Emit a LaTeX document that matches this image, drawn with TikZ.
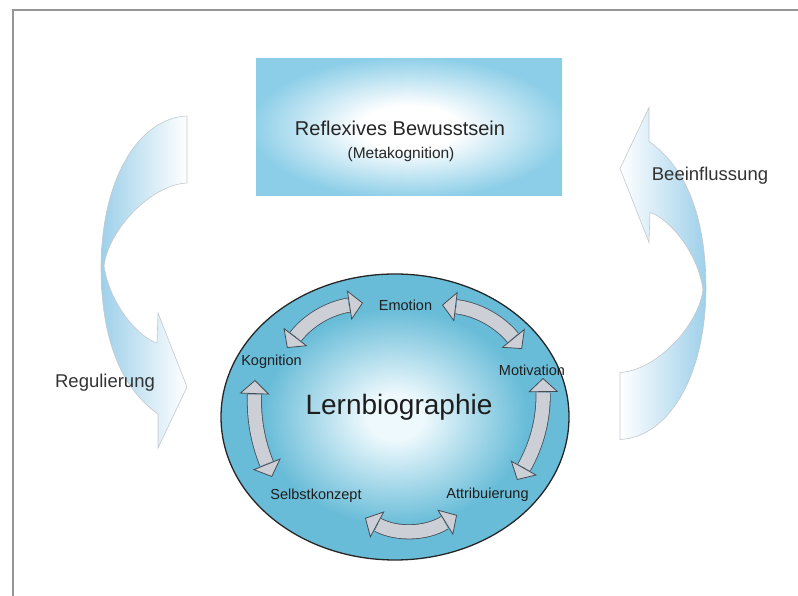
\documentclass[tikz,border=0pt]{standalone}
\usepackage{fontspec}
\setmainfont{Liberation Sans}
\usetikzlibrary{arrows.meta,shapes.geometric}
\definecolor{boxblue}{RGB}{140,206,232}
\definecolor{ellblue}{RGB}{104,188,216}
\definecolor{ellwhite}{RGB}{238,249,253}
\definecolor{bandblue}{RGB}{158,208,234}
\definecolor{bandedge}{RGB}{196,200,204}
\definecolor{arrowgray}{RGB}{204,208,214}
\definecolor{arrowedge}{RGB}{70,76,84}
\definecolor{framegray}{RGB}{150,150,150}
\definecolor{labeltext}{RGB}{30,30,30}
\pgfdeclareradialshading{bioshade}{\pgfpoint{0bp}{0bp}}{color(0bp)=(ellwhite); color(4bp)=(ellwhite); color(19bp)=(ellblue); color(50bp)=(ellblue)}
\pgfdeclareradialshading{metashade}{\pgfpoint{0bp}{0bp}}{color(0bp)=(white); color(8bp)=(white); color(26bp)=(boxblue); color(50bp)=(boxblue)}
\newcommand{\cyclearrow}[3]{%
  \draw[cyctip] #1 to[bend left=#3] #2;
  \draw[cycrim] #1 to[bend left=#3] #2;
  \draw[cycfill] #1 to[bend left=#3] #2;
}

\begin{document}
\begin{tikzpicture}[x=1pt,y=1pt,
    lbl/.style={font=\fontsize{14.5}{17}\selectfont, text=labeltext, inner sep=0pt},
    side/.style={font=\fontsize{18.5}{22}\selectfont, text=black!80, inner sep=0pt},
    band/.style={draw=bandedge, line width=0.6pt},
    cyctip/.style={draw=arrowedge, line width=0.8pt,
      {Triangle[length=14pt,width=30pt,line width=0.8pt,fill=arrowgray]}-{Triangle[length=14pt,width=30pt,line width=0.8pt,fill=arrowgray]}},
    cycrim/.style={draw=arrowedge, line width=15pt, shorten >=14.5pt, shorten <=14.5pt},
    cycfill/.style={draw=arrowgray, line width=13.4pt, shorten >=14.5pt, shorten <=14.5pt},
  ]
  \useasboundingbox (0,0) rectangle (798,596);
  \draw[framegray, line width=1.2pt] (13,0) -- (13,586) -- (798,586);

  \path[band, left color=bandblue, right color=white]
    (187,480) .. controls (140,478) and (102,420) .. (101,330)
    .. controls (101,250) and (125,205) .. (158,182)
    -- (158,148) -- (187,209) -- (158,283) -- (157,253)
    .. controls (140,258) and (110,290) .. (104,330)
    .. controls (108,365) and (150,411) .. (187,413) -- cycle;
  \path[band, left color=white, right color=bandblue]
    (620,156.5) .. controls (667,158.5) and (705,216.5) .. (706,306.5)
    .. controls (706,386.5) and (682,431.5) .. (649,454.5)
    -- (649,488.5) -- (620,427.5) -- (649,353.5) -- (650,383.5)
    .. controls (667,378.5) and (697,346.5) .. (703,306.5)
    .. controls (699,271.5) and (657,225.5) .. (620,223.5) -- cycle;

  \node[side] (regul) at (105,213) {Regulierung};
  \node[side] (beein) at (710,420) {Beeinflussung};

  \node[shading=metashade, minimum width=306pt, minimum height=137pt, inner sep=0pt] (meta) at (409,468.5) {};
  \node[font=\fontsize{20}{24}\selectfont, text=black!85, inner sep=0pt] (refl) at (400,468) {Reflexives Bewusstsein};
  \node[font=\fontsize{15.5}{18}\selectfont, text=black!85, inner sep=0pt] (metak) at (401,441) {(Metakognition)};

  \node[ellipse, draw=black!85, line width=1.3pt, shading=bioshade, minimum width=348pt, minimum height=286pt, inner sep=0pt] (bio) at (395,179) {};
  \node[font=\fontsize{28}{32}\selectfont, text=labeltext, inner sep=0pt] (lern) at (399,189) {Lernbiographie};

  \node[lbl] (emo) at (405.5,291) {Emotion};
  \node[lbl] (kog) at (271.5,234.5) {Kognition};
  \node[lbl] (mot) at (532,226) {Motivation};
  \node[lbl] (att) at (487.5,101) {Attribuierung};
  \node[lbl] (selb) at (316,100) {Selbstkonzept};

  \cyclearrow{([shift={(15.5,13.5)}]kog.center)}{([shift={(-42.5,2)}]emo.center)}{22}
  \cyclearrow{([shift={(36.5,0)}]emo.center)}{([shift={(-10,21)}]mot.center)}{22}
  \cyclearrow{([shift={(11,-8)}]mot.center)}{([shift={(29.5,15)}]att.center)}{15}
  \cyclearrow{([shift={(-30.5,-20)}]att.center)}{([shift={(49,-22)}]selb.center)}{30}
  \cyclearrow{([shift={(-44,19)}]selb.center)}{([shift={(-16.5,-18.5)}]kog.center)}{12}
\end{tikzpicture}
\end{document}
